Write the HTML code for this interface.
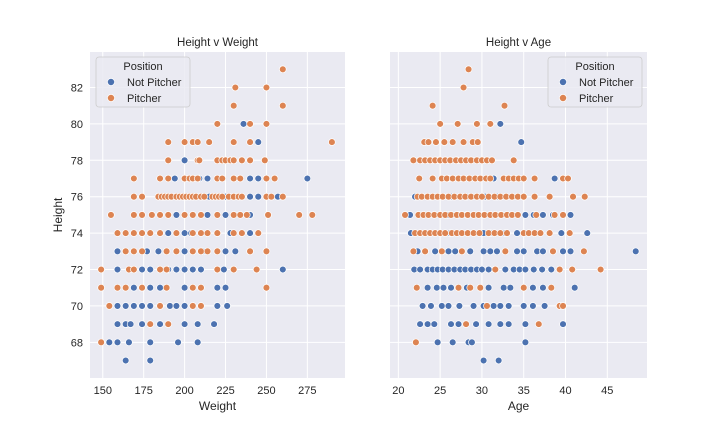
<!DOCTYPE html>
<html><head><meta charset="utf-8"><style>
body{margin:0;background:#fff;}
svg{display:block;font-family:"Liberation Sans",sans-serif;}
</style></head><body>
<svg id="fig" width="720" height="432" viewBox="0 0 720 432"></svg>
<script>
const heightRows=[83,82,81,80,79,78,77,76,75,74,73,72,71,70,69,68,67];
// Height v Weight
const weightNP=[[],[],[],[236],[245],[200],[194,209,214,240,245,275],[187,200,215,225,240,245,257],[195,214,225,240],[174,190,200,204,220,228,240],[159,177,184,200,211,225,231],[159,174,179,190,195,200,205,210,224,260],[169,174,179,185,200,220,225],[159,164,169,174,179,191,195,200,220,226],[159,164,167,174,185,200,208,218],[154,159,166,179,196,208],[164,179]];
const weightP=[[260],[231,250],[230,260],[220,240,250],[190,200,205,208,215,230,240,290],[190,208,209,220,223,225,228,230,235,240,249],[169,185,190,200,203,205,208,220,223,230,234,250,255],[169,174,184,186,188,190,192,195,197,199,201,203,205,207,210,212,217,219,221,223,227,230,233,235,250,253,260],[155,169,174,180,185,190,200,205,210,220,230,234,238,251,270,278],[159,164,169,174,179,185,195,205,210,214,220,230,235,245],[164,169,174,189,195,205,210,214,220,240,250],[149,166,169,185,189,220,230,244],[149,159,164,174,189,205,210,250],[154,185,205,210],[179,190],[149],[]];
// Height v Age
const ageNP=[[],[],[],[32.2],[34.7],[24.9,27],[25.9,31.4,38.7],[22,23.9,26.3,28.2,30.4,31.8,35],[21.4,25.9,27.2,28.2,30.2,32.2,35.2,36.2,37.3,38.5,40.6],[21.5,26.2,30.2,31,32.8,34.2,39.5,42.6],[22.3,24.4,26,26.8,28.6,30.2,31,31.8,34.2,35,36.6,37.3,39.7,40.6,48.4],[21.9,22.6,23.5,24.1,24.7,25.3,26,26.7,27.4,28,28.7,29.4,30,30.8,32.8,33.8,34.5,35.2,36.2,37.2,38.3],[23.5,24.6,25.4,26.3,28.2,30.8,32.6,33.4,36.1,37.3,41.1],[22.9,23.9,25.2,26,27.3,29,30.2,31.4,32.2,33.2,35,36.1,37.5],[22.6,23.5,24.3,26.3,27.2,29.3,30.8,32.2,33.2,35.2,39.7],[24.7,26.5,28.4,28.8,35.2],[30.2,32]];
const ageP=[[28.4],[27.8],[24.1,32.7],[25,27.1,29.4,31],[23.1,23.6,24.5,25.5,26.5,27.8,28.9,29.5],[21.8,22.6,23.2,23.8,24.4,25,25.6,26.2,26.9,27.5,28.1,28.7,29.4,30,30.6,31.2,33.8],[22.5,24.1,25.2,25.8,26.5,27.2,27.8,28.5,29.2,29.8,30.5,31,32.6,33.2,33.8,34.4,35,36.3,39.7,40.3],[22.3,22.8,23.5,24.1,24.7,25.3,26,26.7,27.4,28,28.7,29.4,30,30.8,31.5,32.2,32.9,33.6,34.3,35,36.3,38.1,40.9,42.3],[20.8,22.4,23,23.6,24.3,25,25.6,26.3,27,27.6,28.3,29,29.6,30.3,31,31.6,32.3,33,33.6,34.3,36.5,38.7,39.7],[22,22.6,23.2,23.8,24.4,25,25.6,26.4,27,27.6,28.3,29,29.7,30.8,31.5,32.2,33,35,35.6,36.3,37,38.1,40.5],[21.8,23.2,25.2,27.6,32.8,38.5,42.2],[31.6,39.3,40.8,44.2],[22.2,27.2,28.6,29.8,35,38.3],[30.6,39.3,39.7],[28.1,36.8],[22.1],[]];
const yTicks=[68,70,72,74,76,78,80,82];
const weightTicks=[150,175,200,225,250,275];
const ageTicks=[20,25,30,35,40,45];

const NS="http://www.w3.org/2000/svg";
const svg=document.getElementById('fig');
function mk(tag,attrs,parent){const e=document.createElementNS(NS,tag);for(const k in attrs)e.setAttribute(k,attrs[k]);(parent||svg).appendChild(e);return e;}
const yDom=[66.04,83.95];
const plotTop=52,plotBot=378;
function yS(v){return plotBot-(v-yDom[0])/(yDom[1]-yDom[0])*(plotBot-plotTop);}
const C1="#4c72b0",C2="#dd8452";

function panel(name,left,right,xDom,xTicks,npRows,pRows,title,xlabel,showY,legX){
  const g=mk('g',{});
  
  
  const xS=v=>left+(v-xDom[0])/(xDom[1]-xDom[0])*(right-left);
  const bg=mk('rect',{x:left,y:plotTop,width:right-left,height:plotBot-plotTop,fill:'#eaeaf2'},g);
  
  
  yTicks.forEach(t=>{
    const l=mk('line',{x1:left,x2:right,y1:yS(t),y2:yS(t),stroke:'#fff','stroke-width':1},g);
    
    
    if(showY){const tx=mk('text',{x:left-7,y:yS(t)+4,'text-anchor':'end','font-size':11,fill:'#262626'},g);tx.textContent=t;
      
      }
  });
  xTicks.forEach(t=>{
    const l=mk('line',{x1:xS(t),x2:xS(t),y1:plotTop,y2:plotBot,stroke:'#fff','stroke-width':1},g);
    
    
    const tx=mk('text',{x:xS(t),y:plotBot+16,'text-anchor':'middle','font-size':11,fill:'#262626'},g);tx.textContent=t;
    
    
  });
  [[npRows,C1,'point-not-pitcher'],[pRows,C2,'point-pitcher']].forEach(([rows,col,nm])=>{
    rows.forEach((vals,i)=>{vals.forEach(v=>{
      const c=mk('circle',{cx:xS(v),cy:yS(heightRows[i]),r:3.4,fill:col,stroke:'#fff','stroke-width':0.7},g);
      
      
    });});
  });
  const tt=mk('text',{x:(left+right)/2,y:46,'text-anchor':'middle','font-size':11.5,fill:'#262626'},g);tt.textContent=title;
  
  
  const xl=mk('text',{x:(left+right)/2,y:410,'text-anchor':'middle','font-size':12,fill:'#262626'},g);xl.textContent=xlabel;
  
  
  const lg=mk('g',{},g);
  
  
  mk('rect',{x:legX,y:57,width:94,height:50,rx:3,fill:'#eaeaf2','fill-opacity':0.85,stroke:'#cccccc','stroke-width':0.8},lg);
  const lt=mk('text',{x:legX+47,y:70,'text-anchor':'middle','font-size':11,fill:'#262626'},lg);lt.textContent='Position';
  
  
  [['Not Pitcher',C1,82],['Pitcher',C2,98]].forEach(([lab,col,yy])=>{
    const e=mk('g',{},lg);
    
    
    mk('circle',{cx:legX+15,cy:yy,r:3.6,fill:col,stroke:'#fff','stroke-width':0.7},e);
    const t=mk('text',{x:legX+31,y:yy+4,'font-size':11,fill:'#262626'},e);t.textContent=lab;
  });
}
panel('height-v-weight-panel',90,345,[142.2,298],weightTicks,weightNP,weightP,'Height v Weight','Weight',true,96);
panel('height-v-age-panel',390,647,[19.0,49.75],ageTicks,ageNP,ageP,'Height v Age','Age',false,548);
const yl=mk('text',{x:62,y:215,'text-anchor':'middle','font-size':12,fill:'#262626',transform:'rotate(-90 62 215)'});
yl.textContent='Height';


</script>
</body></html>
